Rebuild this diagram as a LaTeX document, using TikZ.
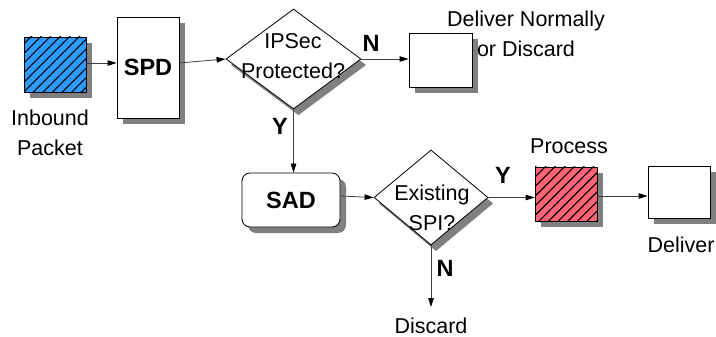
\documentclass[tikz,border=0pt]{standalone}
\usepackage{fontspec}
\setmainfont{Liberation Sans}
\usetikzlibrary{shapes.geometric,arrows.meta,patterns.meta}

\definecolor{shadowgray}{RGB}{128,128,128}
\definecolor{packetblue}{RGB}{45,155,255}
\definecolor{processred}{RGB}{255,100,118}

\tikzset{
  txt/.style={font=\fontsize{21.5}{30}\selectfont, inner sep=0pt, align=center},
  lbl/.style={font=\fontsize{23.5}{30}\selectfont\bfseries, inner sep=0pt},
  boxnode/.style={rectangle, draw=black, line width=0.8pt, fill=white, inner sep=0pt},
  hatched/.style={postaction={pattern={Lines[angle=45, distance=6.8pt, line width=1.1pt]}}},
  decision/.style={diamond, draw=black, line width=0.8pt, fill=white, inner sep=0pt},
  flow/.style={draw=black!75, line width=0.8pt, -{Triangle[length=9pt, width=5.5pt, black]}},
}

\begin{document}
\begin{tikzpicture}[x=1pt, y=-1pt]
\useasboundingbox (0,0) rectangle (716,337);

% drop shadows: gray copies set down and to the right of each shape
\fill[shadowgray] (30,43) rectangle (92,98);
\fill[shadowgray] (123,23) rectangle (185,124);
\fill[shadowgray] (298.5,15) -- (366,65) -- (298.5,115) -- (231,65) -- cycle;
\fill[shadowgray] (415,39) rectangle (478,93);
\fill[shadowgray, rounded corners=8pt] (248,179) rectangle (346,233);
\fill[shadowgray] (436,156) -- (493,203.5) -- (436,251) -- (379,203.5) -- cycle;
\fill[shadowgray] (541,173) rectangle (603,227);
\fill[shadowgray] (654,172) rectangle (716,224);

% boxes
\node[boxnode, fill=packetblue, hatched, minimum width=62pt, minimum height=55pt] (pkt) at (55,64.5) {};
\node[boxnode, minimum width=62pt, minimum height=101pt] (spd) at (148,67.5) {};
\node[lbl] (spdt) at (spd) {SPD};
\node[decision, minimum width=135pt, minimum height=100pt] (d1) at (293.5,59) {};
\node[boxnode, minimum width=63pt, minimum height=54pt] (dn) at (440.5,60) {};
\node[boxnode, rounded corners=8pt, minimum width=98pt, minimum height=54pt] (sad) at (291,200) {};
\node[lbl] (sadt) at (sad) {SAD};
\node[decision, minimum width=114pt, minimum height=95pt] (d2) at (431,197.5) {};
\node[boxnode, fill=processred, hatched, minimum width=62pt, minimum height=54pt] (proc) at (566,194) {};
\node[boxnode, minimum width=62pt, minimum height=52pt] (dlv) at (679,192) {};

% texts
\node[txt] (pktt) at (50,133) {Inbound\\Packet};
\node[txt] (d1t) at (293,56) {IPSec\\Protected?};
\node[txt] (d2t) at (432,208) {Existing\\SPI?};
\node[txt] (dnt) at (526,34) {Deliver Normally\\or Discard};
\node[txt] (proct) at (569,146) {Process};
\node[txt] (dlvt) at (681,245) {Deliver};
\node[txt] (disc) at (431,326) {Discard};

% branch labels
\node[lbl] (n1) at (371,43) {N};
\node[lbl] (y1) at (280,126) {Y};
\node[lbl] (n2) at (445,268) {N};
\node[lbl] (y2) at (503,175) {Y};

% connectors
\draw[flow] (pkt.east |- 0,63) -- (spd.west |- 0,63);
\draw[flow] (spd.east |- 0,63) -- (d1.west);
\draw[flow] (d1.east) -- (dn.west |- d1.east);
\draw[flow] (d1.south) -- (d1.south |- sad.north);
\draw[flow] (sad.east |- 0,196) -- (d2.west);
\draw[flow] (d2.east) -- (proc.west |- d2.east);
\draw[flow] (proc.east |- 0,196) -- (dlv.west |- 0,196);
\draw[flow] (d2.south) -- (d2.south |- 0,307);
\end{tikzpicture}
\end{document}
